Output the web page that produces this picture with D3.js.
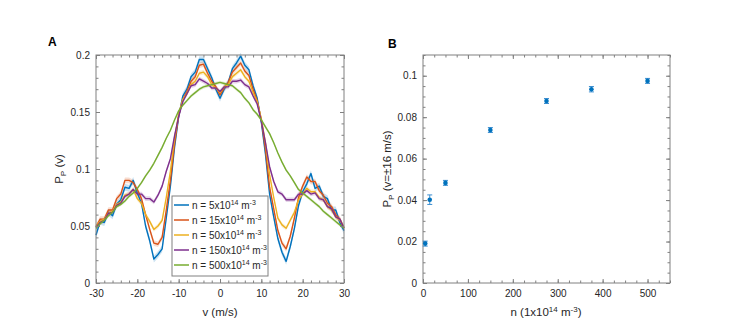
<!DOCTYPE html>
<html>
<head>
<meta charset="utf-8">
<script src="https://cdn.jsdelivr.net/npm/d3@7"></script>
<style>
body{margin:0;background:#fff;}
svg{font-family:"Liberation Sans",Arial,sans-serif;}
</style>
</head>
<body>
<script>
// panel A: signal vs velocity for 5 densities
var velocity=[-30,-29,-28,-27,-26,-25,-24,-23,-22,-21,-20,-19,-18,-17,-16,-15,-14,-13,-12,-11,
  -10,-9,-8,-7,-6,-5,-4,-3,-2,-1,0,1,2,3,4,5,6,7,8,9,10,
  11,12,13,14,15,16,17,18,19,20,21,22,23,24,25,26,27,28,29,30];
var seriesNames=["5","15","50","150","500"];
var pN5=[0.042,0.054,0.053,0.062,0.059,0.069,0.073,0.084,0.083,0.090,
  0.079,0.070,0.050,0.037,0.021,0.025,0.030,0.057,0.085,0.119,
  0.146,0.164,0.170,0.181,0.185,0.196,0.196,0.188,0.180,0.170,
  0.162,
  0.170,0.176,0.188,0.193,0.199,0.191,0.187,0.173,0.162,0.141,
  0.113,0.078,0.058,0.039,0.027,0.019,0.032,0.048,0.068,0.080,
  0.087,0.096,0.083,0.085,0.076,0.074,0.064,0.064,0.053,0.046];
var pN15=[0.049,0.056,0.056,0.064,0.064,0.074,0.078,0.090,0.090,0.088,
  0.082,0.074,0.060,0.047,0.035,0.034,0.040,0.064,0.090,0.122,
  0.147,0.161,0.168,0.177,0.181,0.191,0.192,0.184,0.177,0.172,
  0.165,
  0.171,0.176,0.185,0.189,0.193,0.186,0.182,0.170,0.160,0.143,
  0.117,0.084,0.065,0.046,0.035,0.030,0.041,0.057,0.075,0.085,
  0.093,0.089,0.089,0.081,0.077,0.070,0.067,0.060,0.056,0.048];
var pN50=[0.050,0.054,0.056,0.061,0.063,0.069,0.071,0.077,0.078,0.082,
  0.074,0.070,0.060,0.054,0.047,0.050,0.055,0.075,0.098,0.127,
  0.148,0.161,0.166,0.174,0.177,0.184,0.185,0.181,0.174,0.171,
  0.167,
  0.172,0.174,0.181,0.184,0.187,0.181,0.177,0.167,0.159,0.144,
  0.123,0.095,0.075,0.057,0.051,0.048,0.055,0.062,0.073,0.078,
  0.083,0.080,0.080,0.075,0.073,0.067,0.064,0.058,0.055,0.049];
var pN150=[0.049,0.053,0.055,0.061,0.062,0.068,0.070,0.076,0.078,0.082,
  0.078,0.078,0.074,0.074,0.071,0.077,0.085,0.098,0.109,0.129,
  0.146,0.159,0.166,0.173,0.174,0.179,0.177,0.175,0.171,0.171,
  0.168,
  0.172,0.172,0.177,0.177,0.178,0.174,0.172,0.164,0.157,0.142,
  0.123,0.102,0.089,0.080,0.078,0.073,0.073,0.073,0.078,0.078,
  0.081,0.078,0.079,0.074,0.073,0.067,0.065,0.058,0.056,0.048];
var pN500=[0.048,0.052,0.055,0.059,0.062,0.067,0.069,0.072,0.076,0.079,
  0.083,0.088,0.094,0.099,0.105,0.112,0.119,0.127,0.134,0.143,
  0.151,0.156,0.160,0.164,0.167,0.170,0.172,0.173,0.174,0.175,
  0.176,
  0.175,0.174,0.173,0.170,0.167,0.162,0.158,0.152,0.148,0.143,
  0.137,0.131,0.123,0.114,0.106,0.099,0.094,0.088,0.082,0.079,
  0.076,0.073,0.070,0.067,0.063,0.060,0.057,0.054,0.051,0.048];
var bandHalf=[0.003,0.0025,0.002,0.002,0.0015];
var xTicksA=[-30,-20,-10,0,10,20,30];
var yTicksA=[0,0.05,0.1,0.15,0.2];

// panel B: signal at v=+-16 vs density
var nVals=[5,15,50,150,275,375,500];
var pVals=[0.0190,0.0402,0.0483,0.0738,0.0878,0.0935,0.0975];
var pErr=[0.0012,0.0023,0.0012,0.0012,0.0012,0.0013,0.0012];
var xTicksB=[0,100,200,300,400,500];
var yTicksB=[0,0.02,0.04,0.06,0.08,0.1];

var colors=["#0072BD","#D95319","#EDB120","#7E2F8E","#77AC30"];
var allSeries=[pN5,pN15,pN50,pN150,pN500];

var width=740,height=326;
var svg=d3.select("body").append("svg")
  .attr("width",width)
  .attr("height",height);

var axisColor="#808080", textColor="#262626";

function boxAxes(g,x,y,xMajor,yMajor,xMinor,yMinor){
  var w=x.range()[1]-x.range()[0];
  var h=y.range()[0]-y.range()[1];
  function styleIt(sel){
    sel.select(".domain").remove();
    sel.selectAll("line").attr("stroke",axisColor);
    sel.selectAll("text").attr("fill",textColor).attr("font-size","10px");
  }
  g.append("g").attr("transform","translate(0,"+h+")")
    .call(d3.axisBottom(x).tickValues(xMinor).tickSize(-2.5).tickFormat("")).call(styleIt);
  g.append("g")
    .call(d3.axisTop(x).tickValues(xMinor).tickSize(-2.5).tickFormat("")).call(styleIt);
  g.append("g")
    .call(d3.axisLeft(y).tickValues(yMinor).tickSize(-2.5).tickFormat("")).call(styleIt);
  g.append("g").attr("transform","translate("+w+",0)")
    .call(d3.axisRight(y).tickValues(yMinor).tickSize(-2.5).tickFormat("")).call(styleIt);
  g.append("g").attr("transform","translate(0,"+h+")")
    .call(d3.axisBottom(x).tickValues(xMajor).tickSize(-4).tickPadding(7).tickFormat(function(d){return String(d);})).call(styleIt);
  g.append("g")
    .call(d3.axisTop(x).tickValues(xMajor).tickSize(-4).tickFormat("")).call(styleIt);
  g.append("g")
    .call(d3.axisLeft(y).tickValues(yMajor).tickSize(-4).tickPadding(6).tickFormat(function(d){return String(d);})).call(styleIt);
  g.append("g").attr("transform","translate("+w+",0)")
    .call(d3.axisRight(y).tickValues(yMajor).tickSize(-4).tickFormat("")).call(styleIt);
  g.append("rect").attr("x",0).attr("y",0).attr("width",w).attr("height",h)
    .attr("fill","none").attr("stroke",axisColor).attr("stroke-width",1);
}

// ---------- panel A ----------
var A={left:96,top:55,right:344,bottom:283};
var xA=d3.scaleLinear().domain([-30,30]).range([0,A.right-A.left]);
var yA=d3.scaleLinear().domain([0,0.2]).range([A.bottom-A.top,0]);
var gA=svg.append("g").attr("transform","translate("+A.left+","+A.top+")");

var lineA=d3.line()
  .x(function(d,i){return xA(velocity[i]);})
  .y(function(d){return yA(d);});

allSeries.forEach(function(s,k){
  var band=d3.area()
    .x(function(d,i){return xA(velocity[i]);})
    .y0(function(d){return yA(d-bandHalf[k]);})
    .y1(function(d){return yA(d+bandHalf[k]);});
  gA.append("path").datum(s)
    .attr("d",band)
    .attr("fill",colors[k])
    .attr("opacity",0.2);
});
allSeries.forEach(function(s,k){
  gA.append("path").datum(s)
    .attr("d",lineA)
    .attr("fill","none")
    .attr("stroke",colors[k])
    .attr("stroke-width",1.4)
    .attr("stroke-linejoin","round");
});

boxAxes(gA,xA,yA,xTicksA,yTicksA,d3.range(-30,30.1,2),d3.range(0,0.2001,0.01));

// legend
var leg=gA.append("g").attr("transform","translate("+(172-A.left)+","+(196-A.top)+")");
leg.append("rect").attr("width",96).attr("height",80)
  .attr("fill","#fff").attr("stroke","#808080").attr("stroke-width",1);
seriesNames.forEach(function(nm,k){
  var yy=9+k*15;
  leg.append("line").attr("x1",2).attr("x2",17).attr("y1",yy).attr("y2",yy)
    .attr("stroke",colors[k]).attr("stroke-width",1.5);
  var t=leg.append("text").attr("x",20).attr("y",yy+3.5)
    .attr("font-size","10px").attr("fill",textColor);
  t.append("tspan").text("n = "+nm+"x10");
  t.append("tspan").attr("dy",-4).attr("font-size","7px").text("14");
  t.append("tspan").attr("dy",4).text(" m");
  t.append("tspan").attr("dy",-4).attr("font-size","7px").text("-3");
});

svg.append("text").attr("x",48).attr("y",46).attr("font-weight","bold")
  .attr("font-size","12px").attr("fill","#000").text("A");
svg.append("text").attr("x",220).attr("y",316).attr("text-anchor","middle")
  .attr("font-size","11.5px").attr("fill",textColor).text("v (m/s)");
var ylA=svg.append("text").attr("transform","translate(63,169) rotate(-90)")
  .attr("text-anchor","middle").attr("font-size","11.5px").attr("fill",textColor);
ylA.append("tspan").text("P");
ylA.append("tspan").attr("dy",3).attr("font-size","8px").text("P");
ylA.append("tspan").attr("dy",-3).text(" (v)");

// ---------- panel B ----------
var B={left:423,top:55,right:670,bottom:283};
var xB=d3.scaleLinear().domain([0,550]).range([0,B.right-B.left]);
var yB=d3.scaleLinear().domain([0,0.11]).range([B.bottom-B.top,0]);
var gB=svg.append("g").attr("transform","translate("+B.left+","+B.top+")");

boxAxes(gB,xB,yB,xTicksB,yTicksB,d3.range(0,550.1,25),d3.range(0,0.1101,0.005));

var pts=gB.selectAll("g.pt")
  .data(nVals)
  .enter()
  .append("g").attr("class","pt");
pts.append("line")
  .attr("x1",function(d){return xB(d);})
  .attr("x2",function(d){return xB(d);})
  .attr("y1",function(d,i){return yB(pVals[i]-pErr[i]);})
  .attr("y2",function(d,i){return yB(pVals[i]+pErr[i]);})
  .attr("stroke","#3d8fd1").attr("stroke-width",1);
[-1,1].forEach(function(sgn){
  pts.append("line")
    .attr("x1",function(d){return xB(d)-2.5;})
    .attr("x2",function(d){return xB(d)+2.5;})
    .attr("y1",function(d,i){return yB(pVals[i]+sgn*pErr[i]);})
    .attr("y2",function(d,i){return yB(pVals[i]+sgn*pErr[i]);})
    .attr("stroke","#3d8fd1").attr("stroke-width",1);
});
pts.append("circle")
  .attr("cx",function(d){return xB(d);})
  .attr("cy",function(d,i){return yB(pVals[i]);})
  .attr("r",2.3)
  .attr("fill","#0072BD");

svg.append("text").attr("x",388).attr("y",48).attr("font-weight","bold")
  .attr("font-size","12px").attr("fill","#000").text("B");
var xlB=svg.append("text").attr("x",546).attr("y",316).attr("text-anchor","middle")
  .attr("font-size","11.5px").attr("fill",textColor);
xlB.append("tspan").text("n (1x10");
xlB.append("tspan").attr("dy",-4).attr("font-size","8px").text("14");
xlB.append("tspan").attr("dy",4).text(" m");
xlB.append("tspan").attr("dy",-4).attr("font-size","8px").text("-3");
xlB.append("tspan").attr("dy",4).text(")");
var ylB=svg.append("text").attr("transform","translate(391,169) rotate(-90)")
  .attr("text-anchor","middle").attr("font-size","11.5px").attr("fill",textColor);
ylB.append("tspan").text("P");
ylB.append("tspan").attr("dy",3).attr("font-size","8px").text("P");
ylB.append("tspan").attr("dy",-3).text(" (v=\u00b116 m/s)");
</script>
</body>
</html>
